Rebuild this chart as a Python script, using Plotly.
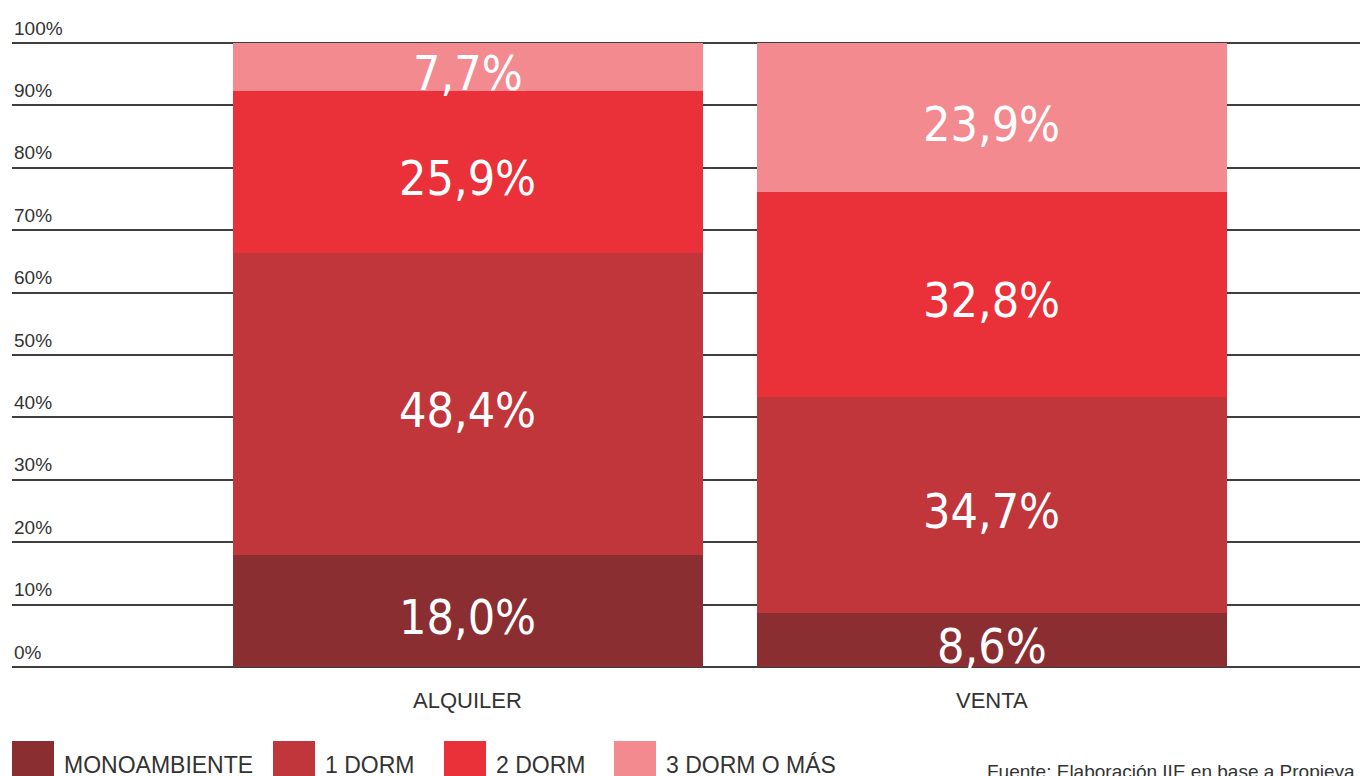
import numpy as np
import plotly.graph_objects as go

# Data
categories = ["ALQUILER", "VENTA"]
series_names = ["MONOAMBIENTE", "1 DORM", "2 DORM", "3 DORM O MÁS"]
monoambiente = [18.0, 8.6]
un_dorm = [48.4, 34.7]
dos_dorm = [25.9, 32.8]
tres_dorm = [7.7, 23.9]
colors = ["#8b2e31", "#c1363b", "#ea3038", "#f28a8f"]
y_ticks = [0, 10, 20, 30, 40, 50, 60, 70, 80, 90, 100]
source_text = "Fuente: Elaboración IIE en base a Propieya"

# the page body adds an 8px margin, so work in page pixels and subtract it
OFF = 8
W, H = 1368 - OFF, 776 - OFF
PX_PER_UNIT = 6.24          # 624px for 0..100
PAD = 2                     # extra px so the 0% and 100% gridlines show
plot_left, plot_right = 12, 1368
plot_top, plot_bottom = 43 - PAD, 667 + PAD
M_L, M_R = plot_left - OFF, 1368 - plot_right
M_T, M_B = plot_top - OFF, (H + OFF) - plot_bottom
PW, PH = plot_right - plot_left, plot_bottom - plot_top
pad_units = PAD / PX_PER_UNIT


def px_x(p):
    return (p - plot_left) / PW


def px_y(p):
    return (plot_bottom - p) / PH


values = [monoambiente, un_dorm, dos_dorm, tres_dorm]
fig = go.Figure()

# Stacked bars
for name, vals, col in zip(series_names, values, colors):
    fig.add_trace(go.Bar(
        x=categories, y=vals, name=name, marker_color=col,
        marker_line_width=0, width=0.897, showlegend=False,
        hoverinfo="skip",
    ))

annotations = []

# Segment labels at segment midpoints
stack = np.array(values)
mids = np.cumsum(stack, axis=0) - stack / 2
for i in range(len(series_names)):
    for c, v, m in zip(categories, values[i], mids[i]):
        annotations.append(dict(
            x=c, xref="x", y=m, yref="y", text=f"{v:.1f}%".replace(".", ","),
            showarrow=False, xanchor="center", yanchor="middle", yshift=-6,
            font=dict(family="DejaVu Sans Condensed, Liberation Sans Narrow, sans-serif",
                      size=48, color="white"),
        ))

# y tick labels above the gridlines
for t in y_ticks:
    annotations.append(dict(
        x=0, xref="paper", y=t, yref="y", text=f"{t}%", showarrow=False,
        xanchor="left", yanchor="middle", yshift=15,
        font=dict(family="Liberation Sans, Arial, sans-serif", size=19, color="#333333"),
    ))
# category labels
for c in categories:
    annotations.append(dict(
        x=c, xref="x", y=0, yref="y", text=c, showarrow=False,
        xanchor="center", yanchor="middle", yshift=-33,
        font=dict(family="Liberation Sans, Arial, sans-serif", size=22, color="#333333"),
    ))

# custom legend
shapes = []
legend_box_x = [12, 273, 444, 614]
for name, col, bx in zip(series_names, colors, legend_box_x):
    shapes.append(dict(
        type="rect", xref="paper", yref="paper",
        x0=px_x(bx), x1=px_x(bx + 42), y0=px_y(741), y1=px_y(790),
        fillcolor=col, line_width=0,
    ))
    annotations.append(dict(
        x=px_x(bx + 50), xref="paper", y=px_y(765), yref="paper",
        text=name, showarrow=False, xanchor="left", yanchor="middle",
        font=dict(family="Liberation Sans, Arial, sans-serif", size=23, color="#333333"),
    ))

annotations.append(dict(
    x=px_x(985), xref="paper", y=px_y(771), yref="paper",
    text=source_text, showarrow=False, xanchor="left", yanchor="middle",
    font=dict(family="Liberation Sans, Arial, sans-serif", size=19, color="#333333"),
))

fig.update_layout(
    barmode="stack",
    width=W, height=H,
    margin=dict(l=M_L, r=M_R, t=M_T, b=M_B),
    paper_bgcolor="white", plot_bgcolor="white",
    annotations=annotations, shapes=shapes,
    xaxis=dict(range=[-0.870, 1.718], showticklabels=False, showgrid=False,
               zeroline=False, showline=False, ticks=""),
    yaxis=dict(range=[-pad_units, 100 + pad_units], tickvals=y_ticks,
               showticklabels=False, showgrid=True, gridcolor="#3f3f3f",
               gridwidth=2, zeroline=False, showline=False, ticks=""),
)

fig.write_html("out.html")
